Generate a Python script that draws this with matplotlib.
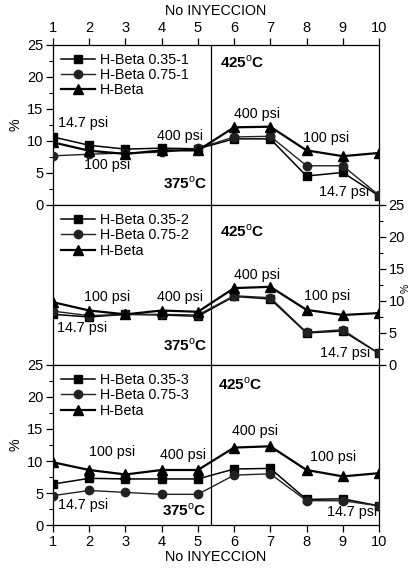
import matplotlib
matplotlib.use("Agg")
import matplotlib.pyplot as plt
from matplotlib.ticker import MultipleLocator

plt.rcParams['font.family'] = ['Liberation Sans', 'DejaVu Sans']
plt.rcParams['mathtext.fontset'] = 'custom'
plt.rcParams['mathtext.rm'] = 'Liberation Sans'
plt.rcParams['mathtext.bf'] = 'Liberation Sans:bold'

injections = [1, 2, 3, 4, 5, 6, 7, 8, 9, 10]

# Panel 1
p1_035 = [10.6, 9.3, 8.7, 8.85, 8.75, 10.3, 10.3, 4.5, 5.05, 1.4]
p1_075 = [7.65, 7.9, 8.1, 8.2, 8.8, 10.6, 10.7, 6.1, 6.1, 1.5]
p1_hb = [9.75, 8.45, 7.95, 8.5, 8.5, 12.1, 12.2, 8.5, 7.6, 8.1]
# Panel 2
p2_035 = [7.9, 7.5, 7.9, 7.8, 7.6, 10.7, 10.3, 5.0, 5.3, 1.8]
p2_075 = [8.4, 7.7, 7.9, 7.9, 7.8, 10.8, 10.5, 5.1, 5.5, 1.8]
p2_hb = [9.8, 8.5, 7.9, 8.5, 8.3, 12.0, 12.2, 8.6, 7.8, 8.1]
# Panel 3
p3_035 = [6.4, 7.3, 7.2, 7.2, 7.2, 8.75, 8.85, 4.0, 4.1, 3.0]
p3_075 = [4.6, 5.4, 5.1, 4.8, 4.8, 7.8, 8.0, 3.8, 3.8, 3.0]
p3_hb = [9.8, 8.6, 7.9, 8.6, 8.6, 12.1, 12.3, 8.6, 7.6, 8.1]

labels1 = ['H-Beta 0.35-1', 'H-Beta 0.75-1', 'H-Beta']
labels2 = ['H-Beta 0.35-2', 'H-Beta 0.75-2', 'H-Beta']
labels3 = ['H-Beta 0.35-3', 'H-Beta 0.75-3', 'H-Beta']

# annotations: (text, x, y, ha, bold)
ann1 = [('14.7 psi', 1.14, 12.8, 'left', False), ('100 psi', 2.5, 6.25, 'center', False),
        ('400 psi', 4.5, 10.8, 'center', False), ('375$^\\mathrm{o}$C', 4.65, 3.4, 'center', True),
        ('425$^\\mathrm{o}$C', 5.6, 22.2, 'left', True), ('400 psi', 6.62, 14.2, 'center', False),
        ('100 psi', 8.53, 10.5, 'center', False), ('14.7 psi', 9.04, 2.0, 'center', False)]
ann2 = [('100 psi', 2.5, 10.6, 'center', False), ('400 psi', 4.5, 10.6, 'center', False),
        ('14.7 psi', 1.8, 5.8, 'center', False), ('375$^\\mathrm{o}$C', 4.66, 3.1, 'center', True),
        ('425$^\\mathrm{o}$C', 5.6, 20.9, 'left', True), ('400 psi', 6.62, 14.1, 'center', False),
        ('100 psi', 8.56, 10.7, 'center', False), ('14.7 psi', 9.06, 1.8, 'center', False)]
ann3 = [('100 psi', 2.62, 11.4, 'center', False), ('400 psi', 4.58, 10.9, 'center', False),
        ('14.7 psi', 1.84, 3.1, 'center', False), ('375$^\\mathrm{o}$C', 4.62, 2.3, 'center', True),
        ('425$^\\mathrm{o}$C', 5.56, 22.0, 'left', True), ('400 psi', 6.58, 14.7, 'center', False),
        ('100 psi', 8.72, 10.7, 'center', False), ('14.7 psi', 9.25, 2.1, 'center', False)]

sep_x = 5.37

fig = plt.figure(figsize=(4.11, 5.77), dpi=100)
left, width, h = 0.129, 0.793, 0.2775
bottoms = [0.645, 0.3675, 0.09]
axes = [fig.add_axes([left, b, width, h]) for b in bottoms]

data = [(p1_035, p1_075, p1_hb, labels1, ann1),
        (p2_035, p2_075, p2_hb, labels2, ann2),
        (p3_035, p3_075, p3_hb, labels3, ann3)]

fs = 10.5
lfs = 10.3
for i, (ax, (s1, s2, s3, labs, ann)) in enumerate(zip(axes, data)):
    ax.plot(injections, s1, '-s', color='black', lw=1.1, ms=5.5, label=labs[0], zorder=3)
    ax.plot(injections, s2, '-o', color='#222222', lw=1.0, ms=6, label=labs[1], zorder=3)
    ax.plot(injections, s3, '-^', color='black', lw=1.6, ms=6.5, label=labs[2], zorder=3)
    ax.axvline(sep_x, color='black', lw=0.9)
    ax.set_xlim(1, 10)
    ax.set_ylim(0, 25)
    ax.set_xticks(injections)
    ax.yaxis.set_major_locator(MultipleLocator(5))
    ax.yaxis.set_minor_locator(MultipleLocator(2.5))
    ax.tick_params(direction='out', length=5, width=0.9, labelsize=fs, pad=2)
    ax.tick_params(which='minor', direction='out', length=3, width=0.8)
    for sp in ax.spines.values():
        sp.set_linewidth(0.9)
    ax.legend(loc='upper left', frameon=False, fontsize=lfs, handlelength=2.4,
              handletextpad=0.3, labelspacing=0.1, borderaxespad=0.15,
              bbox_to_anchor=(0.0, 1.0))
    for (t, x, y, ha, b) in ann:
        ax.text(x, y, t, ha=ha, va='center', fontsize=11 if b else lfs,
                fontweight='bold' if b else 'normal')
    if i == 0:
        ax.xaxis.tick_top()
        ax.xaxis.set_label_position('top')
        ax.set_xlabel('No INYECCION', fontsize=lfs, labelpad=4)
        ax.tick_params(axis='x', which='both', top=True, bottom=False, labeltop=True, labelbottom=False)
        ax.tick_params(axis='y', which='both', left=True, right=False)
        ax.set_ylabel('%', fontsize=lfs, labelpad=3)
    elif i == 1:
        ax.tick_params(axis='x', which='both', top=False, bottom=False, labeltop=False, labelbottom=False)
        ax.yaxis.tick_right()
        ax.tick_params(axis='y', which='both', left=False, right=True, labelleft=False, labelright=True)
        fig.text(0.988, 1 - 288 / 577, '%', fontsize=7.5, rotation=90, ha='center', va='center')
    else:
        ax.tick_params(axis='x', which='both', top=False, bottom=True)
        ax.tick_params(axis='y', which='both', left=True, right=False)
        ax.set_xlabel('No INYECCION', fontsize=lfs, labelpad=1)
        ax.set_ylabel('%', fontsize=lfs, labelpad=3)

fig.savefig('out.png', dpi=100)
